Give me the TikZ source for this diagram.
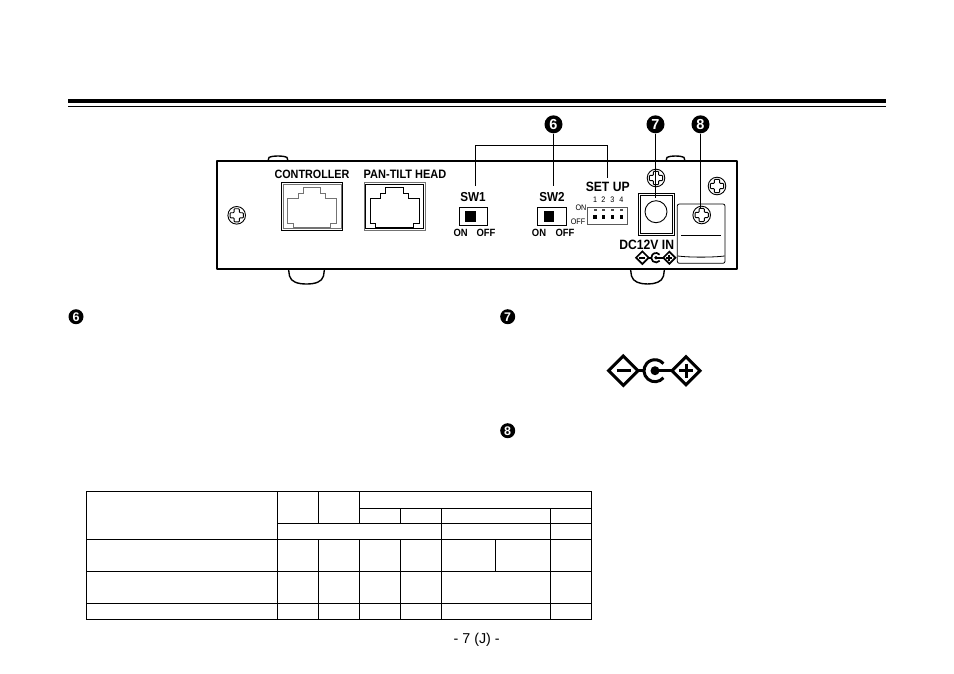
\documentclass[tikz,border=0pt]{standalone}
\usepackage{fontspec}
\setmainfont{Liberation Sans}
\newfontfamily\narrowb[FakeStretch=0.9]{Liberation Sans}
\tikzset{
  panel/.style={line width=1.9pt,line join=round},
  callout/.style={circle,fill=black,text=white,inner sep=0pt,minimum size=#1,font=\fontsize{14.5}{14.5}\selectfont\bfseries},
  leader/.style={line width=1.3pt},
  lab/.style={inner sep=0pt,font=\narrowb\fontsize{12}{12}\selectfont\bfseries},
  labb/.style={inner sep=0pt,font=\narrowb\fontsize{13.5}{13.5}\selectfont\bfseries},
  labs/.style={inner sep=0pt,font=\narrowb\fontsize{10.5}{10.5}\selectfont\bfseries},
  labt/.style={inner sep=0pt,font=\narrowb\fontsize{8}{8}\selectfont},
  grid/.style={line width=0.75pt,line cap=rect},
}
\newcommand{\screwmark}[2]{%
  \begin{scope}[shift={(#1,#2)}]
    \draw[line width=.9pt,fill=white] (0,0) circle[radius=8.8];
    \draw[line width=.9pt,fill=white,rounded corners=.8pt] (-2.6,-6.6)--(2.6,-6.6)--(2.6,-2.6)--(6.6,-2.6)--(6.6,2.6)--(2.6,2.6)--(2.6,6.6)--(-2.6,6.6)--(-2.6,2.6)--(-6.6,2.6)--(-6.6,-2.6)--(-2.6,-2.6)--cycle;
  \end{scope}}
\newcommand{\jackmark}[3]{%
  \begin{scope}[shift={(#1,182.7)}]
    \draw[line width=1pt,#3] (0,0) rectangle (61,47.6);
    \draw[line width=1pt,#2] (1.5,1.6) rectangle (59.5,46.2);
    \draw[line width=1pt,#2] (11.7,44.3)--(11.7,40.3)--(6,40.3)--(6,15.3)--(16.7,15.3)--(16.7,10.7)--(21.7,10.7)--(21.7,5)--(39,5)--(39,10.7)--(44,10.7)--(44,15.3)--(55,15.3)--(55,40.3)--(49,40.3)--(49,44.3)--cycle;
  \end{scope}}
\newcommand{\powersym}[4]{%
  \begin{scope}[shift={(#1,#2)},scale=#3,line width=#4,line join=miter]
    \draw (-46.4,0)--(-31.7,-14.7)--(-17,0)--(-31.7,14.7)--cycle;
    \draw (-38.5,0)--(-24.5,0);
    \draw (-17,0)--(-11,0);
    \draw (17,0)--(31,-14)--(45,0)--(31,14)--cycle;
    \draw (24,0)--(38,0) (31,-7)--(31,7);
    \draw (0,0)--(17,0);
    \fill (0,0) circle[radius=4.5];
    \draw (40:11) arc[start angle=40,end angle=320,radius=11];
  \end{scope}}
\begin{document}
\begin{tikzpicture}[x=1pt,y=-1pt]
\useasboundingbox (0,0) rectangle (954,673);
\fill[white] (0,0) rectangle (954,673);
% top rules
\fill (68,99) rectangle (886,103.4);
\fill (68,105.6) rectangle (886,106.8);
% tabs and feet
\draw[line width=1.4pt] (268,161)--(269,157.5)..controls (272,155.5) and (284,155.5)..(287,157.5)--(288,161);
\draw[line width=1.4pt] (666,161)--(667,157.5)..controls (670,155.5) and (681,155.5)..(684,157.5)--(685,161);
\draw[line width=1.4pt] (288.5,269)--(289.5,276)..controls (291,282) and (298,284)..(306.5,284)..controls (315,284) and (322,282)..(323.5,276)--(324.5,269);
\draw[line width=1.4pt] (630.5,269)--(631.5,276)..controls (633,282) and (640,284)..(647.5,284)..controls (655,284) and (662,282)..(663.5,276)--(664.5,269);
% panel
\draw[panel] (216.8,161) rectangle (736.8,268.8);
\screwmark{236.7}{215.3}
\screwmark{717}{186}
% ports
\node[lab] (ctl) at (312,174.5) {CONTROLLER};
\node[lab,font=\narrowb\fontsize{12.2}{12.2}\selectfont\bfseries] (pth) at (405,174.5) {PAN-TILT HEAD};
\jackmark{281.7}{black!55}{black}
\jackmark{364}{black}{black!55}
% switches
\node[labb,font=\narrowb\fontsize{13}{13}\selectfont\bfseries] (sw1) at (473,196.7) {SW1};
\node[labb,font=\narrowb\fontsize{13}{13}\selectfont\bfseries] (sw2) at (552,196.7) {SW2};
\draw[line width=1pt] (459.3,207.3) rectangle (487.7,225.7);
\fill (465,210.7) rectangle (475.7,222.3);
\draw[line width=1pt] (537.7,207.3) rectangle (566.3,225.7);
\fill (544,210.7) rectangle (554.3,222.3);
\node[labs] (on1) at (460.7,232.7) {ON};
\node[labs] (off1) at (486,232.7) {OFF};
\node[labs] (on2) at (539,232.7) {ON};
\node[labs] (off2) at (565,232.7) {OFF};
% set up
\node[labb] (setup) at (607.7,186.7) {SET UP};
\node[labt] (n1) at (595,199.3) {1};
\node[labt] (n2) at (603.3,199.3) {2};
\node[labt] (n3) at (612.3,199.3) {3};
\node[labt] (n4) at (621.3,199.3) {4};
\node[labt] (ondip) at (581,207.7) {ON};
\node[labt] (offdip) at (578,221.7) {OFF};
\draw[line width=.7pt,black!65] (587.7,207.3) rectangle (627.7,224);
\foreach \xx in {595,603.3,612.3,621.3}{
  \fill[black!70] (\xx-1.5,208.8) rectangle (\xx+1.5,210.6);
  \fill (\xx-1.7,214.9) rectangle (\xx+1.7,218.5);
}
% DC jack
\screwmark{656}{178}
\draw[line width=1pt,fill=white] (638.3,193.3) rectangle (674.3,235);
\draw[line width=1pt] (640,195) rectangle (672.6,233.3);
\draw[line width=.9pt] (656,211.7) circle[radius=11];
\node[labb] (dcin) at (646.7,245) {DC12V IN};
\powersym{656}{257.7}{.43}{1.7pt}
% bracket
\draw[line width=.8pt,rounded corners=2pt,fill=white] (677.3,204)--(725,204)--(725,263.3)--(677.3,263.3)--cycle;
\draw[line width=.8pt] (677.6,256)..controls (690,257.5) and (712,257.5)..(724.7,256);
\draw[line width=1pt] (681,235)--(720.7,235);
\screwmark{701.7}{215}
% callouts
\node[callout=18pt] (c6) at (553.5,124.3) {6};
\node[callout=18pt] (c7) at (655.5,124.3) {7};
\node[callout=18pt] (c8) at (700.5,124.3) {8};
\coordinate (e6) at (553.5,186);
\coordinate (e7) at (655.5,198);
\coordinate (e8) at (700.5,208);
\coordinate (bl) at (475.5,186);
\coordinate (br) at (607.5,178.3);
\coordinate (bt) at (553.5,145.5);
\draw[leader] (c6)--(e6);
\draw[leader] (c7)--(e7);
\draw[leader] (c8)--(e8);
\draw[leader] (bl)|-(bt)-|(br);
% section markers
\node[callout=15pt,font=\fontsize{12.5}{12.5}\selectfont\bfseries] (m6) at (76,316.7) {6};
\node[callout=15pt,font=\fontsize{12.5}{12.5}\selectfont\bfseries] (m7) at (507.7,316.7) {7};
\node[callout=15pt,font=\fontsize{12.5}{12.5}\selectfont\bfseries] (m8) at (507.7,430.7) {8};
\powersym{655}{370.7}{1}{3pt}
% table
\draw[grid] (86.7,491.7) rectangle (591.3,619.3);
\draw[grid] (86.7,539)--(591.3,539) (86.7,571.3)--(591.3,571.3) (86.7,603.3)--(591.3,603.3);
\draw[grid] (359.3,508.3)--(591.3,508.3) (277.3,523.3)--(591.3,523.3);
\draw[grid] (277.3,491.7)--(277.3,619.3);
\draw[grid] (318.3,491.7)--(318.3,523.3) (318.3,539)--(318.3,619.3);
\draw[grid] (359.3,491.7)--(359.3,523.3) (359.3,539)--(359.3,619.3);
\draw[grid] (400.3,508.3)--(400.3,523.3) (400.3,539)--(400.3,619.3);
\draw[grid] (441.3,508.3)--(441.3,619.3);
\draw[grid] (495.3,539)--(495.3,571.3);
\draw[grid] (550.3,508.3)--(550.3,619.3);
% page number
\node[inner sep=0pt,font=\fontsize{14.3}{14.3}\selectfont] (page) at (476.7,639.3) {- 7 (J) -};
\end{tikzpicture}
\end{document}
